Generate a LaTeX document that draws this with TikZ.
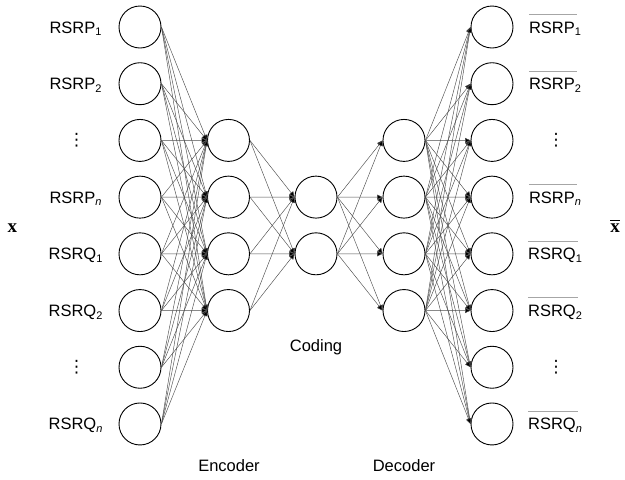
\documentclass[tikz,border=0pt]{standalone}
\usepackage{fontspec}
\setmainfont{Liberation Sans}
\newfontfamily\tnr{Liberation Serif}
\newfontfamily\djv{DejaVu Sans}
\usetikzlibrary{arrows.meta}
\newcommand\sbs[1]{\raisebox{-0.3ex}{\fontsize{11}{11}\selectfont #1}}
\begin{document}
\begin{tikzpicture}[x=1pt,y=-1pt,
  neuron/.style={circle,draw=black,line width=0.9pt,minimum size=42pt,inner sep=0pt},
  link/.style={draw=black!70,line width=0.45pt,-{Triangle[length=5.5pt,width=5pt,fill=black]}},
  lbl/.style={font=\fontsize{16.5}{19}\selectfont,inner sep=0pt,anchor=base},
  dotsty/.style={font=\djv\fontsize{17}{17}\selectfont,inner sep=0pt},
  barline/.style={draw=black!35,line width=0.9pt},
  vec/.style={font=\tnr\bfseries\fontsize{19}{20}\selectfont,inner sep=0pt,anchor=base}]
\useasboundingbox (0,0) rectangle (625,480);
% layers
\foreach \i in {1,...,8} \node[neuron] (in\i) at (140,{27+56.71*(\i-1)}) {};
\foreach \i in {1,...,4} \node[neuron] (en\i) at (228.5,{140.4+56.71*(\i-1)}) {};
\foreach \i in {1,2} \node[neuron] (co\i) at (316,{197.1+56.71*(\i-1)}) {};
\foreach \i in {1,...,4} \node[neuron] (de\i) at (404,{140.4+56.71*(\i-1)}) {};
\foreach \i in {1,...,8} \node[neuron] (out\i) at (492,{27+56.71*(\i-1)}) {};
% connections
\foreach \i in {1,...,8} \foreach \j in {1,...,4} \draw[link] (in\i.east) -- (en\j.west);
\foreach \i in {1,...,4} \foreach \j in {1,2} \draw[link] (en\i.east) -- (co\j.west);
\foreach \i in {1,2} \foreach \j in {1,...,4} \draw[link] (co\i.east) -- (de\j.west);
\foreach \i in {1,...,4} \foreach \j in {1,...,8} \draw[link] (de\i.east) -- (out\j.west);
% left labels
\foreach \t/\i in {RSRP\sbs{1}/1,RSRP\sbs{2}/2,RSRP\sbs{\textit{n}}/4,RSRQ\sbs{1}/5,RSRQ\sbs{2}/6,RSRQ\sbs{\textit{n}}/8}
  \node[lbl] (l\i) at (75.5,{27+56.71*(\i-1)+6}) {\t};
\node[dotsty] (ldots1) at (76.5,140.4) {⋮};
\node[dotsty] (ldots2) at (76.5,367.3) {⋮};
% right labels
\foreach \t/\i in {RSRP\sbs{1}/1,RSRP\sbs{2}/2,RSRP\sbs{\textit{n}}/4,RSRQ\sbs{1}/5,RSRQ\sbs{2}/6,RSRQ\sbs{\textit{n}}/8} {
  \node[lbl] (r\i) at (555,{27+56.71*(\i-1)+6}) {\t};
  \draw[barline] ([yshift=7pt]r\i.north west) -- ([yshift=7pt,xshift=-4pt]r\i.north east);
}
\node[dotsty] (rdots1) at (556,140.4) {⋮};
\node[dotsty] (rdots2) at (556,367.3) {⋮};
% vectors
\node[vec] (x) at (12.5,232) {x};
\node[vec] (xb) at (615,232) {x};
\draw[line width=0.9pt] ([yshift=3pt]xb.north west) -- ([yshift=3pt]xb.north east);
% captions
\node[lbl] (coding) at (316,351) {Coding};
\node[lbl] (enc) at (229,471) {Encoder};
\node[lbl] (dec) at (404,471) {Decoder};
\end{tikzpicture}
\end{document}
